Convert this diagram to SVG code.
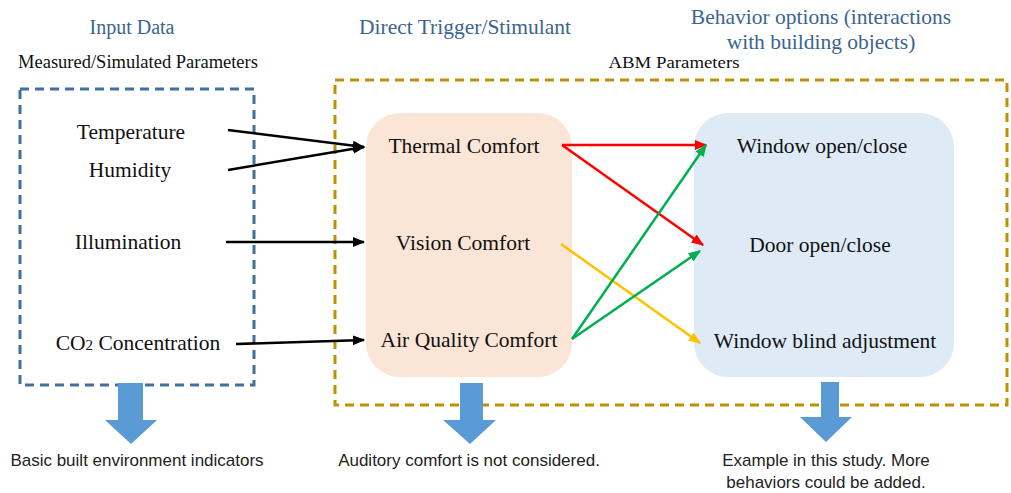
<svg xmlns="http://www.w3.org/2000/svg" width="1011" height="493" viewBox="0 0 1011 493">
<style>
.hdr{font-family:"Liberation Serif",serif;font-size:21.5px;fill:#3b6590;text-anchor:middle}
.lbl{font-family:"Liberation Serif",serif;font-size:21.5px;fill:#111;text-anchor:middle}
.sub{font-family:"Liberation Serif",serif;font-size:18.5px;fill:#111;text-anchor:middle}
.note{font-family:"Liberation Sans",sans-serif;font-size:17px;fill:#222;text-anchor:middle}
.blk{stroke:#000;stroke-width:2.5;fill:none}
.red{stroke:#ff0000;stroke-width:2.5;fill:none}
.yel{stroke:#ffc000;stroke-width:2.5;fill:none}
.grn{stroke:#00b050;stroke-width:2.5;fill:none}
.barrow{fill:#5b9bd5}
</style>
<defs>
<marker id="mb" viewBox="0 0 10 10" refX="9" refY="5" markerWidth="5" markerHeight="5" orient="auto" markerUnits="strokeWidth"><path d="M0,1 L10,5 L0,9 z" fill="#000"/></marker>
<marker id="mr" viewBox="0 0 10 10" refX="9" refY="5" markerWidth="5" markerHeight="5" orient="auto" markerUnits="strokeWidth"><path d="M0,1 L10,5 L0,9 z" fill="#ff0000"/></marker>
<marker id="my" viewBox="0 0 10 10" refX="9" refY="5" markerWidth="5" markerHeight="5" orient="auto" markerUnits="strokeWidth"><path d="M0,1 L10,5 L0,9 z" fill="#ffc000"/></marker>
<marker id="mg" viewBox="0 0 10 10" refX="9" refY="5" markerWidth="5" markerHeight="5" orient="auto" markerUnits="strokeWidth"><path d="M0,1 L10,5 L0,9 z" fill="#00b050"/></marker>
</defs>
<rect width="1011" height="493" fill="#fff"/>

<g id="headers">
<text class="hdr" x="132" y="34" style="font-size:20px">Input Data</text>
<text class="hdr" x="465" y="34">Direct Trigger/Stimulant</text>
<text class="hdr" x="821" y="24">Behavior options (interactions</text>
<text class="hdr" x="821" y="49">with building objects)</text>
<text class="sub" x="138" y="68">Measured/Simulated Parameters</text>
<text class="sub" x="674" y="68" style="font-size:17px" textLength="131" lengthAdjust="spacingAndGlyphs">ABM Parameters</text>
</g>

<g id="input-box">
<rect x="20" y="89" width="234" height="296" fill="none" stroke="#41719c" stroke-width="3" stroke-dasharray="9,6"/>
<text class="lbl" x="131" y="139">Temperature</text>
<text class="lbl" x="130" y="177">Humidity</text>
<text class="lbl" x="128" y="249">Illumination</text>
<text class="lbl" x="138" y="350">CO<tspan style="font-size:15px">2</tspan> Concentration</text>
</g>

<g id="abm-box">
<rect x="335" y="80" width="672" height="325" fill="none" stroke="#bf9000" stroke-width="3" stroke-dasharray="9,6"/>
</g>

<g id="trigger-node">
<rect x="366" y="113" width="206" height="264" rx="34" fill="#fbe5d6"/>
<text class="lbl" x="464" y="153">Thermal Comfort</text>
<text class="lbl" x="463" y="250">Vision Comfort</text>
<text class="lbl" x="469" y="347">Air Quality Comfort</text>
</g>

<g id="behavior-node">
<rect x="694" y="113" width="260" height="264" rx="34" fill="#deebf7"/>
<text class="lbl" x="822" y="153">Window open/close</text>
<text class="lbl" x="820" y="252">Door open/close</text>
<text class="lbl" x="825" y="348">Window blind adjustment</text>
</g>

<g id="connectors">
<line class="blk" x1="228" y1="130" x2="364" y2="147" marker-end="url(#mb)"/>
<line class="blk" x1="228" y1="170" x2="364" y2="147" marker-end="url(#mb)"/>
<line class="blk" x1="226" y1="242" x2="364" y2="242" marker-end="url(#mb)"/>
<line class="blk" x1="236" y1="344" x2="364" y2="340" marker-end="url(#mb)"/>
<line class="red" x1="562" y1="145" x2="706" y2="145" marker-end="url(#mr)"/>
<line class="red" x1="562" y1="145" x2="703" y2="245" marker-end="url(#mr)"/>
<line class="yel" x1="561" y1="244" x2="700" y2="343" marker-end="url(#my)"/>
<line class="grn" x1="572" y1="339" x2="706" y2="145" marker-end="url(#mg)"/>
<line class="grn" x1="572" y1="339" x2="700" y2="251" marker-end="url(#mg)"/>
</g>

<g id="block-arrows">
<path class="barrow" d="M118,383 H143 V420 H157 L131,444 L105,420 H118 Z"/>
<path class="barrow" d="M460,383 H483 V420 H496 L470,444 L443,420 H460 Z"/>
<path class="barrow" d="M821,382 H839 V417 H852 L826,442 L800,417 H821 Z"/>
</g>

<g id="notes">
<text class="note" x="137" y="466">Basic built environment indicators</text>
<text class="note" x="469" y="466">Auditory comfort is not considered.</text>
<text class="note" x="826" y="466">Example in this study. More</text>
<text class="note" x="826" y="488">behaviors could be added.</text>
</g>
</svg>
